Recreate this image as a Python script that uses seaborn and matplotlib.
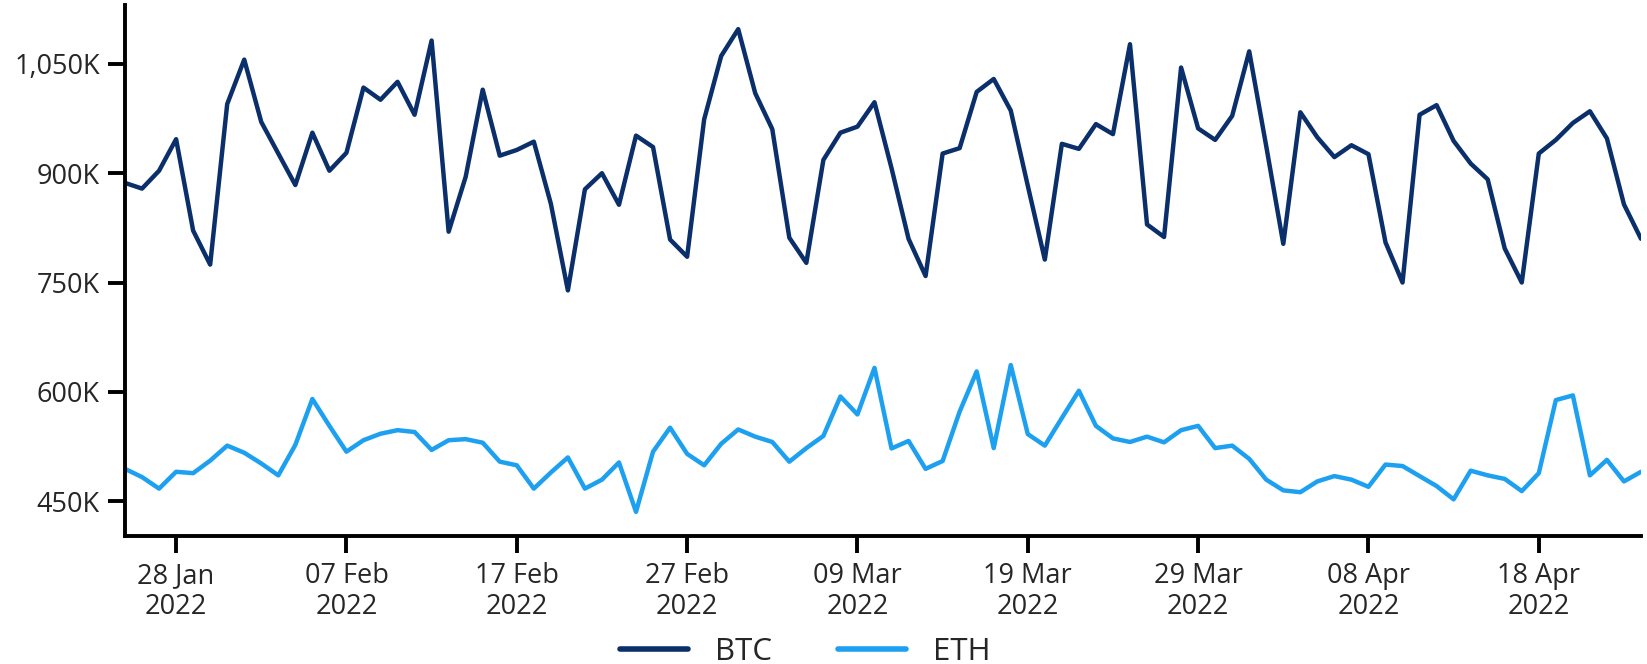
import numpy as np
import pandas as pd
import matplotlib
matplotlib.use("Agg")
import matplotlib.pyplot as plt
import matplotlib.dates as mdates
from matplotlib.ticker import MultipleLocator, FuncFormatter
from matplotlib.lines import Line2D
import seaborn as sns

# ---- data (values in thousands) ----
start_date = "2022-01-25"
n_days = 90
btc = [886.7, 878.9, 903.4, 946.7, 821.3, 774.6, 994.9, 1055.9, 970.3, 927.0,
       883.8, 955.6, 903.4, 928.0, 1017.5, 1000.8, 1025.4, 980.2, 1082.0, 819.8,
       895.1, 1014.6, 924.1, 931.9, 943.3, 858.2, 739.2, 877.9, 900.0, 856.7,
       951.6, 935.9, 809.0, 785.4, 973.8, 1060.8, 1097.7, 1009.7, 960.5, 811.5,
       777.0, 918.2, 955.6, 963.9, 997.4, 907.0, 810.0, 758.9, 927.0, 934.4,
       1011.6, 1029.3, 986.0, 882.8, 781.5, 940.3, 933.4, 967.4, 953.6, 1077.0,
       829.7, 812.5, 1045.0, 961.5, 945.7, 978.7, 1067.2, 936.9, 803.1, 983.6,
       949.2, 922.1, 938.4, 926.1, 805.1, 750.0, 980.2, 993.4, 944.3, 913.3,
       891.6, 796.7, 750.0, 927.0, 945.7, 968.9, 985.0, 947.7, 857.2, 810.0]
eth = [494.3, 483.0, 467.2, 490.3, 488.4, 505.6, 526.2, 516.4, 501.7, 485.4,
       527.2, 590.2, 553.3, 517.9, 533.6, 542.5, 547.4, 544.9, 520.3, 533.6,
       535.1, 530.2, 504.2, 499.2, 467.2, 489.3, 510.0, 467.2, 479.5, 503.1,
       435.3, 517.9, 550.8, 514.9, 499.2, 528.7, 548.4, 538.5, 531.2, 504.2,
       522.8, 539.5, 593.6, 569.0, 632.9, 522.3, 532.6, 494.3, 505.1, 572.9,
       628.0, 522.8, 636.8, 542.0, 526.2, 564.1, 601.5, 553.3, 536.1, 531.2,
       538.5, 530.7, 547.4, 553.3, 522.8, 526.2, 508.0, 479.5, 464.8, 462.3,
       477.1, 484.4, 479.5, 469.7, 500.2, 498.2, 484.4, 470.7, 452.5, 491.8,
       485.4, 480.5, 463.8, 488.4, 588.7, 595.1, 485.4, 506.6, 477.1, 490.3]
series_names = ["BTC", "ETH"]
colors = ["#0b2f6b", "#1ea0f1"]
tick_dates = ["2022-01-28", "2022-02-07", "2022-02-17", "2022-02-27", "2022-03-09",
              "2022-03-19", "2022-03-29", "2022-04-08", "2022-04-18"]

dates = pd.date_range(start_date, periods=n_days, freq="D")
df = pd.DataFrame({
    "date": np.concatenate([dates, dates]),
    "value": btc + eth,
    "coin": [series_names[0]] * n_days + [series_names[1]] * n_days,
})

sns.set_theme(style="ticks")
plt.rcParams["font.family"] = ["Open Sans", "DejaVu Sans"]
text_color = "#262626"

fig = plt.figure(figsize=(16.47, 6.64), dpi=100)
ax = fig.add_axes([125 / 1647, 1 - 536 / 664, (1641 - 125) / 1647, (536 - 5) / 664])

sns.lineplot(data=df, x="date", y="value", hue="coin", hue_order=series_names,
             palette=colors, linewidth=3.2, ax=ax, legend=False)

ax.set_xlim(dates[0], dates[-1])
ax.set_xticks(pd.to_datetime(tick_dates))
ax.xaxis.set_major_formatter(mdates.DateFormatter("%d %b\n%Y"))
ax.yaxis.set_major_locator(MultipleLocator(150))
ax.yaxis.set_major_formatter(FuncFormatter(lambda v, p: f"{v:,.0f}K"))
ax.set_xlabel("")
ax.set_ylabel("")

sns.despine(ax=ax)
for s in ["left", "bottom"]:
    ax.spines[s].set_linewidth(2.8)
    ax.spines[s].set_color("black")
ax.tick_params(axis="both", length=12, width=2.8, color="black",
               labelsize=19.5, labelcolor=text_color, pad=6)
ax.tick_params(axis="x", pad=7)
for lbl in ax.get_xticklabels():
    lbl.set_linespacing(1.12)

handles = [Line2D([0], [0], color=c, lw=4) for c in colors]
fig.legend(handles, series_names, loc="center", bbox_to_anchor=(805 / 1647, 1 - 652 / 664),
           ncol=2, frameon=False, fontsize=22.5, handlelength=2.2, handletextpad=0.85,
           columnspacing=2.1, labelcolor=text_color)

fig.savefig("out.png", dpi=100)
